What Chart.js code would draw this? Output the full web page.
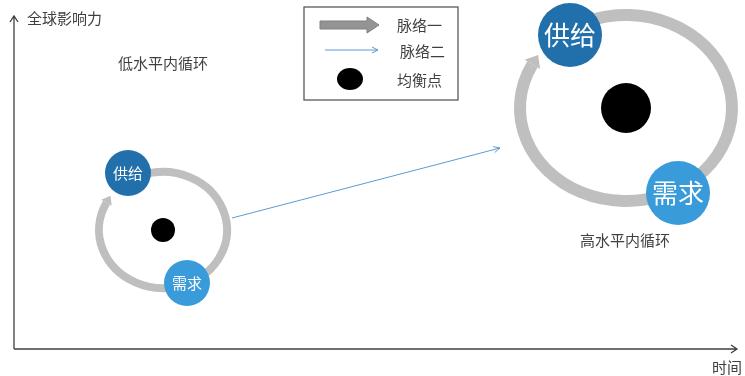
<!DOCTYPE html>
<html>
<head>
<meta charset="utf-8">
<script src="https://cdn.jsdelivr.net/npm/chart.js@4"></script>
<style>
  html, body { margin: 0; padding: 0; background: #fff; }
  #wrap { width: 745px; height: 376px; }
</style>
</head>
<body>
<div id="wrap"><canvas id="diagram"></canvas></div>
<script>
// 两个内循环（低水平 / 高水平），坐标为 时间(x) / 全球影响力(y) 的读数
const cycleLabels = ["低水平内循环", "高水平内循环"];
const cycleTime = [163, 626];
const cycleInfluence = [230, 108];
const cycleSpanX = [64, 106];
const cycleSpanY = [58, 93];

const supplyTime = [128, 570];
const supplyInfluence = [173, 35];
const demandTime = [187, 678];
const demandInfluence = [283, 193];

const labelTime = [163, 625];
const labelInfluence = [63, 240];

// 脉络二：从低水平循环到高水平循环
const linkTime = [232, 500];
const linkInfluence = [218, 148];

const nodeNames = ["供给", "需求"];
const legendNames = ["脉络一", "脉络二", "均衡点"];
const axisNames = ["时间", "全球影响力"];

const ringColor = "#bfbfbf";
const supplyColor = "#2270ab";
const demandColor = "#3a9bdb";
const linkColor = "#5b9bd5";
const textColor = "#3f3f3f";
const cjk = "'Noto Sans CJK SC', sans-serif";

const diagramPlugin = {
  id: "diagram",
  beforeDatasetsDraw(chart) {
    const ctx = chart.ctx;
    const sx = chart.scales.x, sy = chart.scales.y;
    const px = v => sx.getPixelForValue(v);
    const py = v => sy.getPixelForValue(v);
    ctx.save();

    // 坐标轴
    const ox = 14, oy = 349;
    ctx.strokeStyle = "#404040";
    ctx.lineWidth = 1.3;
    ctx.beginPath();
    ctx.moveTo(ox, oy); ctx.lineTo(ox, 16);
    ctx.moveTo(ox - 4, 22); ctx.lineTo(ox, 16); ctx.lineTo(ox + 4, 22);
    ctx.moveTo(ox, oy); ctx.lineTo(737, oy);
    ctx.moveTo(731, oy - 4); ctx.lineTo(737, oy); ctx.lineTo(731, oy + 4);
    ctx.stroke();

    // 循环圈与箭头
    cycleLabels.forEach((_, i) => {
      const cx = px(cycleTime[i]), cy = py(cycleInfluence[i]);
      const rx = Math.abs(px(cycleTime[i] + cycleSpanX[i]) - cx);
      const ry = Math.abs(py(cycleInfluence[i] + cycleSpanY[i]) - cy);
      const w = i === 0 ? 8 : 12;
      const a0 = 250 * Math.PI / 180, a1 = (208 + 360) * Math.PI / 180;
      ctx.strokeStyle = ringColor;
      ctx.lineWidth = w;
      ctx.beginPath();
      ctx.ellipse(cx, cy, rx, ry, 0, a0, a1);
      ctx.stroke();
      const ex = cx + rx * Math.cos(a1), ey = cy + ry * Math.sin(a1);
      let dx = -rx * Math.sin(a1), dy = ry * Math.cos(a1);
      const len = Math.hypot(dx, dy); dx /= len; dy /= len;
      const hl = i === 0 ? 8 : 11, hw = i === 0 ? 6 : 9;
      ctx.fillStyle = ringColor;
      ctx.beginPath();
      ctx.moveTo(ex + dx * hl, ey + dy * hl);
      ctx.lineTo(ex - dy * hw, ey + dx * hw);
      ctx.lineTo(ex + dy * hw, ey - dx * hw);
      ctx.closePath();
      ctx.fill();
    });
    ctx.restore();
  },
  afterDatasetsDraw(chart) {
    const ctx = chart.ctx;
    const sx = chart.scales.x, sy = chart.scales.y;
    const px = v => sx.getPixelForValue(v);
    const py = v => sy.getPixelForValue(v);
    ctx.save();
    ctx.textAlign = "center";
    ctx.textBaseline = "middle";

    // 节点文字
    cycleLabels.forEach((_, i) => {
      ctx.fillStyle = "#fff";
      ctx.font = (i === 0 ? "15px " : "26px ") + cjk;
      ctx.fillText(nodeNames[0], px(supplyTime[i]), py(supplyInfluence[i]));
      ctx.fillText(nodeNames[1], px(demandTime[i]), py(demandInfluence[i]));
      ctx.fillStyle = textColor;
      ctx.font = "15px " + cjk;
      ctx.fillText(cycleLabels[i], px(labelTime[i]), py(labelInfluence[i]));
    });

    // 脉络二箭头
    const x0 = px(linkTime[0]), y0 = py(linkInfluence[0]);
    const x1 = px(linkTime[1]), y1 = py(linkInfluence[1]);
    const ang = Math.atan2(y1 - y0, x1 - x0);
    ctx.strokeStyle = linkColor;
    ctx.lineWidth = 1;
    ctx.beginPath();
    ctx.moveTo(x1 - 7 * Math.cos(ang - 0.45), y1 - 7 * Math.sin(ang - 0.45));
    ctx.lineTo(x1, y1);
    ctx.lineTo(x1 - 7 * Math.cos(ang + 0.45), y1 - 7 * Math.sin(ang + 0.45));
    ctx.stroke();

    // 轴名称
    ctx.fillStyle = textColor;
    ctx.font = "15px " + cjk;
    ctx.textAlign = "left";
    ctx.fillText(axisNames[1], 27, 18);
    ctx.fillText(axisNames[0], 712, 367);

    // 图例
    ctx.strokeStyle = "#595959";
    ctx.lineWidth = 1.3;
    ctx.strokeRect(304, 7, 154, 93);
    ctx.fillStyle = "#949494";
    ctx.strokeStyle = "#808080";
    ctx.lineWidth = 1;
    ctx.beginPath();
    ctx.moveTo(320, 21); ctx.lineTo(367, 21); ctx.lineTo(367, 17);
    ctx.lineTo(379, 25); ctx.lineTo(367, 33); ctx.lineTo(367, 29);
    ctx.lineTo(320, 29); ctx.closePath();
    ctx.fill(); ctx.stroke();
    ctx.strokeStyle = linkColor;
    ctx.beginPath();
    ctx.moveTo(325, 50); ctx.lineTo(378, 50);
    ctx.moveTo(372, 47); ctx.lineTo(378, 50); ctx.lineTo(372, 53);
    ctx.stroke();
    ctx.fillStyle = "#000";
    ctx.beginPath();
    ctx.ellipse(350, 79, 13, 11, 0, 0, Math.PI * 2);
    ctx.fill();
    ctx.fillStyle = textColor;
    ctx.font = "15px " + cjk;
    ctx.fillText(legendNames[0], 397, 25);
    ctx.fillText(legendNames[1], 400, 51);
    ctx.fillText(legendNames[2], 397, 80);
    ctx.restore();
  }
};

new Chart(document.getElementById("diagram"), {
  type: "bubble",
  data: {
    datasets: [
      {
        type: "line",
        data: linkTime.map((t, i) => ({ x: t, y: linkInfluence[i] })),
        borderColor: linkColor,
        borderWidth: 1,
        pointRadius: 0,
        clip: false
      },
      {
        label: "均衡点",
        data: cycleTime.map((t, i) => ({ x: t, y: cycleInfluence[i], r: i === 0 ? 12 : 25 })),
        backgroundColor: "#000",
        borderWidth: 0,
        clip: false
      },
      {
        label: "供给",
        data: supplyTime.map((t, i) => ({ x: t, y: supplyInfluence[i], r: i === 0 ? 23 : 32 })),
        backgroundColor: supplyColor,
        borderWidth: 0,
        clip: false
      },
      {
        label: "需求",
        data: demandTime.map((t, i) => ({ x: t, y: demandInfluence[i], r: i === 0 ? 23 : 32 })),
        backgroundColor: demandColor,
        borderWidth: 0,
        clip: false
      }
    ]
  },
  options: {
    responsive: true,
    maintainAspectRatio: false,
    animation: false,
    layout: { padding: 0, autoPadding: false },
    plugins: { legend: { display: false }, tooltip: { enabled: false } },
    scales: {
      x: { type: "linear", min: 0, max: 745, display: false },
      y: { type: "linear", min: 0, max: 376, reverse: true, display: false }
    }
  },
  plugins: [diagramPlugin]
});
</script>
</body>
</html>
